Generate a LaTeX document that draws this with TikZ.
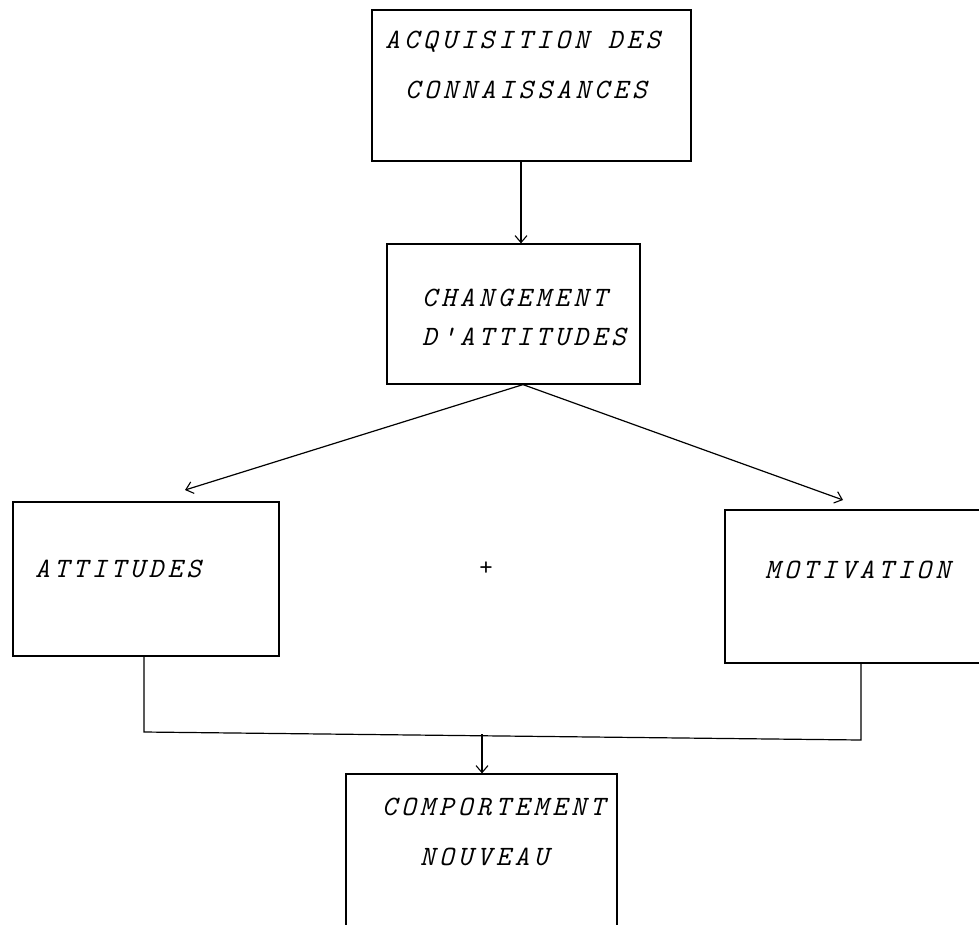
\documentclass[tikz,border=0pt]{standalone}
\usepackage{fontspec}
\newfontfamily\twfont[LetterSpace=15]{Latin Modern Mono}
\usetikzlibrary{arrows.meta}
\tikzset{
  box/.style={draw, line width=1.2pt, rectangle, inner sep=0pt},
  lbl/.style={anchor=base west, inner sep=0pt, font=\twfont\itshape\fontsize{28}{32}\selectfont},
  conn/.style={line width=1.2pt},
  arr/.style={conn, -{Straight Barb[length=7pt,width=12pt,line width=1.1pt]}},
}
\begin{document}
\begin{tikzpicture}[x=1pt,y=-1pt]
\clip (0,0) rectangle (979,924);
\useasboundingbox (0,0) rectangle (979,924);
% boxes
\node[box, minimum width=319pt, minimum height=151pt] (acq) at (531.5,85.5) {};
\node[box, minimum width=253pt, minimum height=140pt] (chg) at (513.5,314) {};
\node[box, minimum width=266pt, minimum height=154pt] (att) at (146,579) {};
\node[box, minimum width=270pt, minimum height=153pt] (mot) at (860,586.5) {};
\node[box, minimum width=271pt, minimum height=170pt] (new) at (481.5,859) {};
% texts
\node[lbl] (t1) at (385,48) {ACQUISITION DES};
\node[lbl] (t2) at (405,98) {CONNAISSANCES};
\node[lbl] (t3) at (422,306) {CHANGEMENT};
\node[lbl] (t4) at (422,345) {D'ATTITUDES};
\node[lbl] (t5) at (35,577) {ATTITUDES};
\node[lbl] (t6) at (765,578) {MOTIVATION};
\node[lbl] (t7) at (382,815) {COMPORTEMENT};
\node[lbl] (t8) at (420,865) {NOUVEAU};
\node[font=\twfont\fontsize{26}{28}\selectfont, inner sep=0pt] (plus) at (486,569) {+};
% connectors
\coordinate (j1) at (144,732);
\coordinate (j2) at (861,740);
\coordinate (jm) at (482,734);
\draw[arr] (acq.south -| 521,0) -- (chg.north -| 521,0);
\draw[arr] (chg.south -| 523,0) -- (185,490);
\draw[arr] (chg.south -| 523,0) -- (843,500);
\draw[conn] (att.south -| j1) -- (j1) -- (j2) -- (mot.south -| j2);
\draw[arr] (jm) -- (new.north -| jm);
\end{tikzpicture}
\end{document}
